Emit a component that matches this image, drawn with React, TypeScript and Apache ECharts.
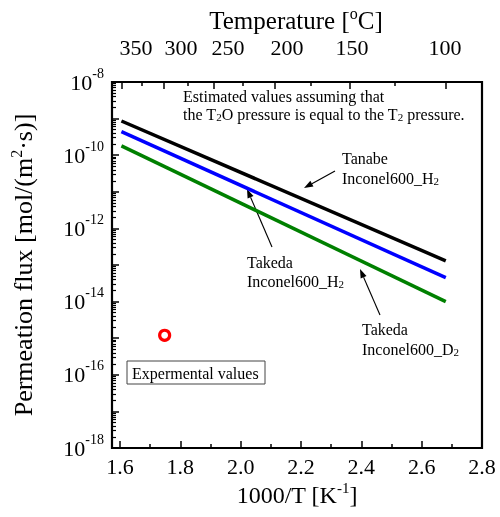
import React, { useEffect, useRef } from 'react';
import * as echarts from 'echarts';

const FONT = '"Liberation Serif", "Times New Roman", serif';

// Curves are evaluated at the two ends of the temperature range (°C)
const curveTempsC = [350, 100];
const tanabeH2 = [8.6e-10, 1.3e-13];
const takedaH2 = [4.4e-10, 4.5e-14];
const takedaD2 = [1.8e-10, 1.0e-14];

// Experimental value (1000/T, flux)
const expX = [1.748];
const expY = [1.2e-15];

// Top temperature axis
const tempMajor = [350, 300, 250, 200, 150, 100];
const tempMinor = [325, 275, 225, 175, 125];
const tempLabels = ['350', '300', '250', '200', '150', '100'];
// where the top labels sit (the original places them slightly off the ticks)
const tempLabelX = [1.653, 1.802, 1.958, 2.154, 2.369, 2.677];

// log decades of the y axis
const yDecadeMin = -18;
const yDecadeMax = -8;

const toInvT = (c: number) => 1000 / (c + 273.15);

const minorLog: number[] = [];
for (let n = yDecadeMin; n < yDecadeMax; n++) {
  for (let k = 2; k <= 9; k++) minorLog.push(n + Math.log10(k));
}

const GRID = { left: 120, top: 82, width: 362, height: 366, containLabel: false, outerBoundsMode: 'none' };
const XMIN = 1.6;
const XMAX = 2.8;

const txt = { fontFamily: FONT, color: '#000' };

function arrow(x1: number, y1: number, x2: number, y2: number) {
  const dx = x2 - x1;
  const dy = y2 - y1;
  const len = Math.sqrt(dx * dx + dy * dy);
  const ux = dx / len;
  const uy = dy / len;
  const L = 9;
  const W = 3.2;
  const bx = x2 - ux * L;
  const by = y2 - uy * L;
  return [
    { type: 'line', shape: { x1, y1, x2: bx, y2: by }, style: { stroke: '#000', lineWidth: 1.1 } },
    {
      type: 'polygon',
      shape: { points: [[x2, y2], [bx - uy * W, by + ux * W], [bx + uy * W, by - ux * W]] },
      style: { fill: '#000' },
    },
  ];
}

function label(x: number, y: number, text: string, size = 16) {
  return {
    type: 'text',
    x,
    y,
    style: {
      text,
      fontFamily: FONT,
      fontSize: size,
      fill: '#000',
      align: 'left',
      verticalAlign: 'middle',
      rich: {
        sub: { fontFamily: FONT, fontSize: Math.round(size * 0.7), fill: '#000', verticalAlign: 'bottom' },
      },
    },
  };
}

export default function App() {
  const ref = useRef<HTMLDivElement>(null);

  useEffect(() => {
    if (!ref.current) return;
    const chart = echarts.init(ref.current, undefined, { renderer: 'svg' });
    const curveX = curveTempsC.map(toInvT);
    const mk = (ys: number[]) => curveX.map((x, i) => [x, ys[i]]);

    const option: any = {
      animation: false,
      grid: [GRID, GRID, GRID],
      xAxis: [
        {
          gridIndex: 0,
          type: 'value',
          position: 'bottom',
          min: XMIN,
          max: XMAX,
          interval: 0.2,
          axisLine: { show: false },
          axisTick: { inside: true, length: 7, lineStyle: { color: '#000', width: 1.5 } },
          minorTick: { show: true, splitNumber: 2, length: 4, lineStyle: { color: '#000', width: 1.5 } },
          splitLine: { show: false },
          minorSplitLine: { show: false },
          axisLabel: { ...txt, fontSize: 22, margin: 7, formatter: (v: number) => v.toFixed(1) },
          name: '1000/T [K{s|-1}]',
          nameLocation: 'middle',
          nameGap: 32,
          nameMoveOverlap: false,
          nameTextStyle: {
            ...txt,
            fontSize: 24,
            lineHeight: 30,
            padding: [0, 8, 0, 0],
            rich: { s: { ...txt, fontSize: 15, verticalAlign: 'top' } },
          },
        },
        {
          gridIndex: 0,
          type: 'value',
          position: 'top',
          min: XMIN,
          max: XMAX,
          axisLine: { show: false },
          axisTick: {
            inside: true,
            length: 7,
            customValues: tempMajor.map(toInvT),
            lineStyle: { color: '#000', width: 1.5 },
          },
          splitLine: { show: false },
          axisLabel: {
            ...txt,
            fontSize: 22,
            margin: 24,
            customValues: tempLabelX,
            formatter: (v: number) => {
              const i = tempLabelX.findIndex((p) => Math.abs(p - v) < 1e-6);
              return i >= 0 ? tempLabels[i] : '';
            },
          },
          name: 'Temperature [{s|o}C]',
          nameLocation: 'middle',
          nameGap: 47,
          nameMoveOverlap: false,
          nameTextStyle: {
            ...txt,
            fontSize: 25,
            lineHeight: 30,
            padding: [0, 10, 0, 0],
            rich: { s: { ...txt, fontSize: 16, verticalAlign: 'top' } },
          },
        },
        {
          gridIndex: 1,
          type: 'value',
          position: 'top',
          min: XMIN,
          max: XMAX,
          axisLine: { show: false },
          axisTick: {
            inside: true,
            length: 4,
            customValues: tempMinor.map(toInvT),
            lineStyle: { color: '#000', width: 1.5 },
          },
          axisLabel: { show: false },
          splitLine: { show: false },
        },
        { gridIndex: 2, type: 'value', min: XMIN, max: XMAX, show: false },
      ],
      yAxis: [
        {
          gridIndex: 0,
          type: 'log',
          logBase: 10,
          min: Math.pow(10, yDecadeMin),
          max: Math.pow(10, yDecadeMax),
          show: false,
        },
        {
          gridIndex: 1,
          type: 'value',
          position: 'left',
          offset: 8,
          min: yDecadeMin,
          max: yDecadeMax,
          interval: 1,
          axisLine: { show: false },
          axisTick: { inside: true, length: 7, lineStyle: { color: '#000', width: 1.5 } },
          splitLine: { show: false },
          axisLabel: {
            ...txt,
            margin: 8,
            formatter: (v: number) => (Math.round(v) % 2 === 0 ? `{b|10}{s|${Math.round(v)}}` : ''),
            rich: {
              b: { ...txt, fontSize: 22, lineHeight: 32 },
              s: { ...txt, fontSize: 14, verticalAlign: 'top' },
            },
          },
          name: 'Permeation flux [mol/(m{s|2}·s)]',
          nameLocation: 'middle',
          nameGap: 74,
          nameMoveOverlap: false,
          nameTextStyle: {
            ...txt,
            fontSize: 26,
            lineHeight: 30,
            rich: { s: { ...txt, fontSize: 16, verticalAlign: 'top' } },
          },
        },
        {
          gridIndex: 2,
          type: 'value',
          position: 'left',
          offset: 8,
          min: yDecadeMin,
          max: yDecadeMax,
          axisLine: { show: false },
          axisTick: { inside: true, length: 4, customValues: minorLog, lineStyle: { color: '#000', width: 1.2 } },
          axisLabel: { show: false },
          splitLine: { show: false },
        },
      ],
      series: [
        {
          name: 'Tanabe Inconel600_H2',
          type: 'line',
          xAxisIndex: 0,
          yAxisIndex: 0,
          data: mk(tanabeH2),
          showSymbol: false,
          lineStyle: { color: '#000000', width: 3.5 },
        },
        {
          name: 'Takeda Inconel600_H2',
          type: 'line',
          xAxisIndex: 0,
          yAxisIndex: 0,
          data: mk(takedaH2),
          showSymbol: false,
          lineStyle: { color: '#0000ff', width: 3.5 },
        },
        {
          name: 'Takeda Inconel600_D2',
          type: 'line',
          xAxisIndex: 0,
          yAxisIndex: 0,
          data: mk(takedaD2),
          showSymbol: false,
          lineStyle: { color: '#008000', width: 3.5 },
        },
        {
          name: 'Experimental',
          type: 'scatter',
          xAxisIndex: 0,
          yAxisIndex: 0,
          data: expX.map((x, i) => [x, expY[i]]),
          symbol: 'circle',
          symbolSize: 10,
          itemStyle: { color: 'rgba(255,255,255,0)', borderColor: '#ff0000', borderWidth: 3.2, opacity: 1 },
        },
      ],
      graphic: [
        {
          type: 'rect',
          shape: { x: 112, y: 82, width: 370, height: 366 },
          style: { fill: 'none', stroke: '#000', lineWidth: 2.2 },
          z: 10,
        },
        label(183, 96, 'Estimated values assuming that'),
        label(183, 114, 'the T{sub|2}O pressure is equal to the T{sub|2} pressure.'),
        label(342, 158, 'Tanabe'),
        label(342, 178, 'Inconel600_H{sub|2}'),
        label(247, 262, 'Takeda'),
        label(247, 281, 'Inconel600_H{sub|2}'),
        label(362, 329, 'Takeda'),
        label(362, 349, 'Inconel600_D{sub|2}'),
        {
          type: 'rect',
          shape: { x: 127, y: 361, width: 138, height: 23 },
          style: { fill: '#fff', stroke: '#444', lineWidth: 1 },
        },
        label(132, 373, 'Expermental values'),
        ...arrow(335, 171, 304, 188),
        ...arrow(272, 247, 247, 189),
        ...arrow(380, 315, 360, 269),
      ],
    };

    chart.setOption(option);
    return () => chart.dispose();
  }, []);

  return (
    <div
      ref={ref}
      style={{ position: 'fixed', left: 0, top: 0, width: 500, height: 517 }}
    />
  );
}
